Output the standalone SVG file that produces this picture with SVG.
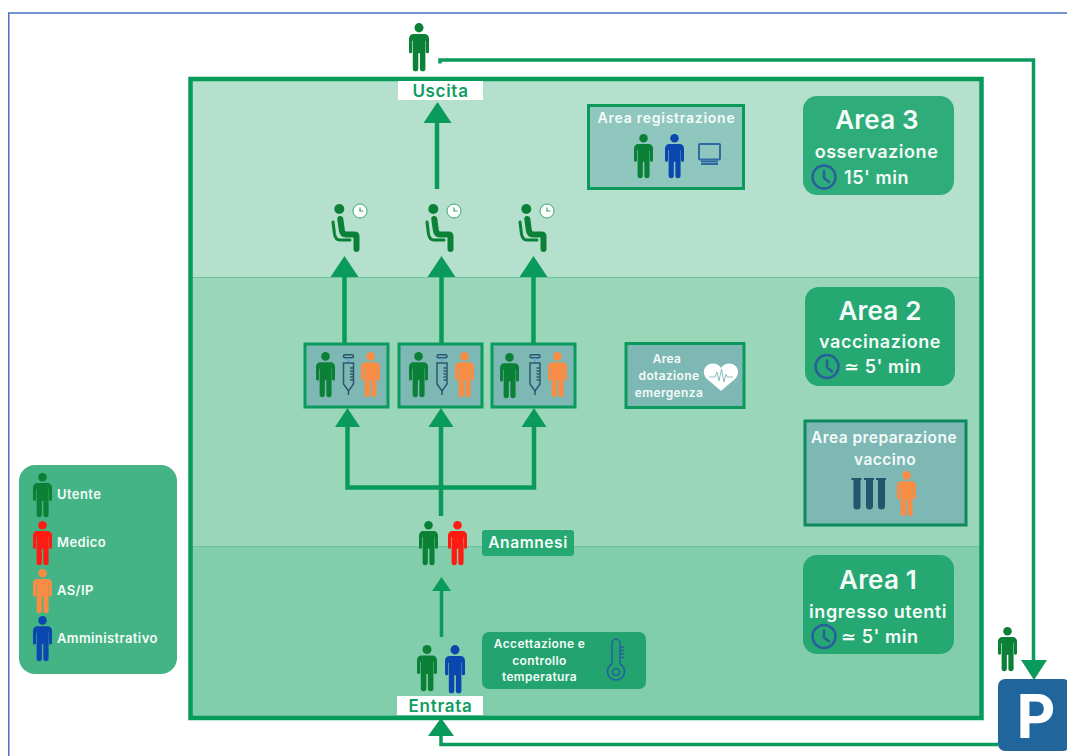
<svg xmlns="http://www.w3.org/2000/svg" width="1067" height="756" viewBox="0 0 1067 756">
<style>
text{font-family:Inter,"Liberation Sans","DejaVu Sans",sans-serif;font-weight:600;fill:#f4fbf8}
.m{text-anchor:middle}
.t{font-size:26px;letter-spacing:.2px}
.s{font-size:18px;letter-spacing:.55px}
.l{font-size:12px;letter-spacing:.35px}
.k{font-size:13px;letter-spacing:.4px}
.w{font-size:17px;letter-spacing:.7px;fill:#0f9d63}
.g{fill:#0a8137}.r{fill:#ff1a12}.o{fill:#f98c45}.b{fill:#0a47ae}
.cn{fill:none;stroke:#0a9b5c;stroke-width:4.5}
.thin{stroke-width:3.5}
.ah{fill:#0a9b5c}
.box{stroke:#0a9b5c;stroke-width:3}
.vb{fill:#7db8b5}
.clk{fill:none;stroke:#2a6099;stroke-width:2.5;stroke-linecap:round}
</style>
<defs>
<symbol id="p" viewBox="0 0 20 46" preserveAspectRatio="none" overflow="visible">
<circle cx="10" cy="4.500" r="4.500"/>
<path d="M4.500 10.500H15.500a4.500 4.500 0 0 1 4.500 4.500V27.500a1.600 1.600 0 0 1-3.200 0V17H16.400V43.500a2.700 2.700 0 0 1-5.500 0V29H9.300V43.500a2.700 2.700 0 0 1-5.500 0V17H3.200V27.500a1.600 1.600 0 0 1-3.200 0V15a4.500 4.500 0 0 1 4.500-4.500z"/>
</symbol>
<g id="seat">
<circle cx="339.300" cy="209" r="5" fill="#0a8137"/>
<path d="M340.300 219L341.800 230Q342.300 234.500 346 234.500H354.500Q356.500 234.500 356.500 236.500V249" fill="none" stroke="#0a8137" stroke-width="6" stroke-linecap="round" stroke-linejoin="round"/>
<path d="M333 222L334.500 234Q335.500 240 340 240H350" fill="none" stroke="#0a8137" stroke-width="3" stroke-linecap="round"/>
</g>
<g id="wclock">
<circle r="7" fill="#fff" stroke="#3aa679" stroke-width="1"/>
<path d="M0-3.500V0H3.500" fill="none" stroke="#3aa679" stroke-width="1.200"/>
</g>
<g id="syr" fill="none" stroke="#2f5570" stroke-width="1.500">
<rect x="1.500" y="0.800" width="10" height="3" rx="1.500"/>
<path d="M6.500 4V9" stroke="#5aa9dc" stroke-width="2"/>
<path d="M1.500 9H11.500V30L6.500 37L1.500 30Z"/>
<path d="M6.500 37V41M8 14H11M8 17H11M8 20H11M8 23H11M8 26H11"/>
</g>
<g id="bigclk">
<circle r="11.500" class="clk"/>
<path d="M0-6V1L5 5" class="clk"/>
</g>
</defs>

<rect width="1067" height="756" fill="#fff"/>
<path d="M1067 13H8.800V756" fill="none" stroke="#4472c4" stroke-width="1.500"/>

<g id="zones">
<rect x="190" y="80" width="792" height="197" fill="#b5e0cd"/>
<rect x="190" y="277" width="792" height="269" fill="#99d6ba"/>
<rect x="190" y="546" width="792" height="171" fill="#82cdab"/>
<path d="M190 277.500H982M190 546.500H982" stroke="#6cc29b" stroke-width="1.200"/>
<rect x="190.500" y="79" width="791" height="639" fill="none" stroke="#069a5b" stroke-width="4.500"/>
</g>

<g id="connectors">
<path class="cn thin" d="M440 63.500V60H1033.500V662"/>
<path class="ah" d="M1034 680L1021 660H1047Z"/>
<path class="cn thin" d="M998 744.500H441V734"/>
<path class="ah" d="M441 718L428 736H454Z"/>
<path class="cn" d="M437 189V120"/>
<path class="ah" d="M437.500 102L423.500 123H451.500Z"/>
<path class="cn" d="M344.500 343V275M441.500 343V275M533.500 343V275"/>
<path class="ah" d="M344.500 256L330.500 277H358.500ZM441.500 256L427.500 277H455.500ZM533.500 256L519.500 277H547.500Z"/>
<path class="cn" d="M347.500 425V487.500H534V425M441 516V425"/>
<path class="ah" d="M347.500 408L335 427H360ZM441 408L428.500 427H453.500ZM534 408L521.500 427H546.500Z"/>
<path class="cn thin" d="M441.500 637V589"/>
<path class="ah" d="M441.500 577L432 591H451Z"/>
</g>

<g id="legend">
<rect x="19" y="465" width="158" height="209" rx="16" fill="#44b486"/>
<use href="#p" x="33" y="473" width="19" height="44" class="g"/>
<use href="#p" x="33" y="521" width="19" height="44" class="r"/>
<use href="#p" x="33" y="569" width="19" height="44" class="o"/>
<use href="#p" x="33" y="616" width="19" height="45" class="b"/>
<text x="57" y="499" class="k">Utente</text>
<text x="57" y="546.500" class="k">Medico</text>
<text x="57" y="595" class="k">AS/IP</text>
<text x="57" y="643" class="k">Amministrativo</text>
</g>

<g id="exit-user"><use href="#p" x="409" y="23" width="20" height="48" class="g"/></g>
<g id="uscita">
<rect x="398" y="81" width="85" height="19" fill="#fff"/>
<text x="440.500" y="97" class="m w">Uscita</text>
</g>

<g id="area-registrazione">
<rect x="588.500" y="105.500" width="155" height="83" fill="#8fc7be" class="box"/>
<text x="666.500" y="123" class="m" style="font-size:14px;letter-spacing:.75px">Area registrazione</text>
<use href="#p" x="634" y="134" width="19" height="44" class="g"/>
<use href="#p" x="665" y="134" width="19" height="44" class="b"/>
<g fill="none" stroke="#2f6aa5" stroke-width="2">
<rect x="699" y="144" width="21" height="15.500" rx="1"/>
<path d="M701 161.500H718"/>
<path d="M701 164H718"/>
</g>
</g>

<g id="area3">
<rect x="803" y="96" width="151" height="99" rx="14" fill="#2ead7a"/>
<text x="877" y="129" class="m t">Area 3</text>
<text x="876.500" y="158" class="m s">osservazione</text>
<use href="#bigclk" x="824" y="177"/>
<text x="844" y="183.500" class="s">15' min</text>
</g>

<g id="sedute">
<use href="#seat"/>
<use href="#wclock" x="360" y="211"/>
<use href="#seat" x="94"/>
<use href="#wclock" x="454" y="211"/>
<use href="#seat" x="187"/>
<use href="#wclock" x="547" y="211"/>
</g>

<g id="vacc1">
<rect x="305" y="344" width="83" height="63" class="vb box"/>
<use href="#p" x="316" y="352" width="19" height="45" class="g"/>
<use href="#syr" x="342" y="354"/>
<use href="#p" x="361" y="352" width="19" height="45" class="o"/>
</g>
<g id="vacc2">
<rect x="399" y="344" width="83" height="63" class="vb box"/>
<use href="#p" x="409" y="352" width="19" height="45" class="g"/>
<use href="#syr" x="435.500" y="354"/>
<use href="#p" x="455" y="352" width="19" height="45" class="o"/>
</g>
<g id="vacc3">
<rect x="492" y="344" width="83" height="63" class="vb box"/>
<use href="#p" x="500" y="353" width="19" height="45" class="g"/>
<use href="#syr" x="528.500" y="354"/>
<use href="#p" x="548" y="352" width="19" height="45" class="o"/>
</g>

<g id="area-dotazione">
<rect x="626" y="343.500" width="118" height="64" class="vb box"/>
<text class="m l" x="667" y="363">Area</text>
<text class="m l" x="669" y="380">dotazione</text>
<text class="m l" x="669" y="396.500">emergenza</text>
<path d="M721 391L706.500 378.500C701 372 705 364 712 363.500C716 363.300 719.500 365 721 368C722.500 365 726 363.300 730 363.500C737 364 741 372 735.500 378.500Z" fill="#fff"/>
<path d="M709 377H715L717 372L719 381L721.500 369L724 382L726 374L727.500 377H733" fill="none" stroke="#7db8b5" stroke-width="0.900"/>
</g>

<g id="area2">
<rect x="805" y="287" width="150" height="99" rx="14" fill="#26a873"/>
<text x="880" y="320" class="m t">Area 2</text>
<text x="880" y="348" class="m s">vaccinazione</text>
<use href="#bigclk" x="827" y="366.500"/>
<text x="844" y="373" class="s">≃ 5' min</text>
</g>

<g id="area-preparazione">
<rect x="805" y="421" width="161" height="104" class="vb" stroke="#0b8a5d" stroke-width="3"/>
<text x="884" y="443" class="m" style="font-size:15.500px;letter-spacing:.45px">Area preparazione</text>
<text x="885" y="465" class="m" style="font-size:15.500px;letter-spacing:.45px">vaccino</text>
<g fill="#24566b">
<path d="M851.500 478H861.500V480H860.500V506a3.500 3.500 0 0 1-7 0V480H851.500Z"/>
<path d="M864 478H874V480H873V506a3.500 3.500 0 0 1-7 0V480H864Z"/>
<path d="M876 478H886V480H885V506a3.500 3.500 0 0 1-7 0V480H876Z"/>
</g>
<use href="#p" x="897" y="471" width="19" height="45" class="o"/>
</g>

<g id="anamnesi">
<use href="#p" x="419" y="521" width="19" height="44" class="g"/>
<use href="#p" x="448" y="521" width="19" height="44" class="r"/>
<rect x="482" y="530" width="92" height="26" rx="3" fill="#26a873"/>
<text x="528" y="548" class="m" style="font-size:15.500px;letter-spacing:.6px">Anamnesi</text>
</g>

<g id="accettazione">
<use href="#p" x="417" y="645" width="20" height="46" class="g"/>
<use href="#p" x="445" y="645" width="20" height="48" class="b"/>
<rect x="482" y="632" width="164" height="57" rx="7" fill="#22a36f"/>
<text x="539.500" y="647.500" class="m l">Accettazione e</text>
<text x="539.500" y="664.500" class="m l">controllo</text>
<text x="539.500" y="681" class="m l">temperatura</text>
<g fill="none" stroke="#2a6099" stroke-width="1.500">
<path d="M612 664V643a4 4 0 0 1 8 0V664a8.500 8.500 0 1 1-8 0Z"/>
<circle cx="616" cy="672" r="3.500"/>
<path d="M620 647H624M620 650.500H624M620 654H624M620 657.500H624"/>
</g>
</g>

<g id="area1">
<rect x="803" y="555" width="151" height="99" rx="14" fill="#26a873"/>
<text x="878" y="589" class="m t">Area 1</text>
<text x="878" y="618" class="m s">ingresso utenti</text>
<use href="#bigclk" x="824" y="636.500"/>
<text x="841" y="642.500" class="s">≃ 5' min</text>
</g>

<g id="entrata">
<rect x="397" y="696" width="86" height="19" fill="#fff"/>
<text x="440.500" y="711.500" class="m w">Entrata</text>
</g>

<g id="parcheggio">
<use href="#p" x="998" y="627" width="19" height="44" class="g"/>
<rect x="998" y="679" width="72" height="72" rx="7" fill="#20659c"/>
<text x="1036" y="738" class="m" style="font-size:60px;font-weight:700;fill:#fff">P</text>
</g>
</svg>
